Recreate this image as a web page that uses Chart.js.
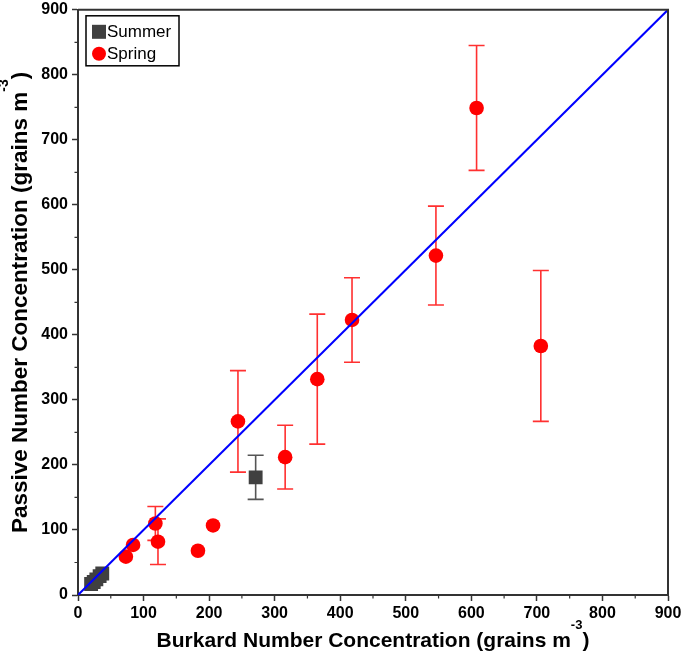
<!DOCTYPE html>
<html>
<head>
<meta charset="utf-8">
<script src="https://cdn.jsdelivr.net/npm/chart.js@4.4.1/dist/chart.umd.min.js"></script>
<style>
html,body{margin:0;padding:0;background:#fff;}
#wrap{width:683px;height:670px;position:relative;}
</style>
</head>
<body>
<div id="wrap"><canvas id="c" width="683" height="670"></canvas></div>
<script>
// ---- Data ----
const springX    = [608, 546, 706, 418, 365, 244, 316, 118, 122, 206, 183, 84, 73];
const springY    = [749, 522, 383, 423, 332, 267, 212, 110, 82, 107, 68, 77, 59];
const springYErr = [96, 76, 116, 65, 100, 78, 49, 26, 35, 0, 0, 0, 0];
const springXErr = [0, 0, 0, 0, 0, 0, 0, 0, 0, 7, 0, 7, 0];

const summerX    = [20, 24, 28, 33, 37, 271];
const summerY    = [17, 20, 24, 29, 33, 181];
const summerYErr = [0, 0, 0, 0, 0, 34];
const summerXErr = [0, 0, 0, 0, 0, 0];

const lineX = [0, 900];
const lineY = [0, 900];

const axisMin = 0, axisMax = 900, majorStep = 100, minorStep = 50;
const xTitle = ["Burkard Number Concentration (grains m", "-3", ")"];
const yTitle = ["Passive Number Concentration (grains m", "-3", ")"];
const legendItems = [
  {label: "Summer", shape: "rect", color: "#404040"},
  {label: "Spring", shape: "circle", color: "#ff0000"}
];

const FONT = "'Liberation Sans', Arial, sans-serif";
const AXIS = "#333333";

function pts(xs, ys){ return xs.map((x,i)=>({x:x, y:ys[i]})); }

const errorBars = {
  id: 'errorBars',
  beforeDatasetsDraw(chart){
    const ctx = chart.ctx, xs = chart.scales.x, ys = chart.scales.y;
    chart.data.datasets.forEach((ds)=>{
      if(!ds.yErr) return;
      ctx.save();
      ctx.strokeStyle = ds.errColor;
      ctx.lineWidth = 1.6;
      ds.data.forEach((p,i)=>{
        const px = xs.getPixelForValue(p.x), py = ys.getPixelForValue(p.y);
        const e = ds.yErr[i];
        if(e>0){
          const t = ys.getPixelForValue(p.y+e), b = ys.getPixelForValue(p.y-e);
          ctx.beginPath();
          ctx.moveTo(px,t); ctx.lineTo(px,b);
          ctx.moveTo(px-8,t); ctx.lineTo(px+8,t);
          ctx.moveTo(px-8,b); ctx.lineTo(px+8,b);
          ctx.stroke();
        }
        const ex = ds.xErr[i];
        if(ex>0){
          const l = xs.getPixelForValue(p.x-ex), r = xs.getPixelForValue(p.x+ex);
          ctx.beginPath();
          ctx.moveTo(l,py); ctx.lineTo(r,py);
          ctx.moveTo(l,py-4); ctx.lineTo(l,py+4);
          ctx.moveTo(r,py-4); ctx.lineTo(r,py+4);
          ctx.stroke();
        }
      });
      ctx.restore();
    });
  }
};

function drawSupText(ctx, parts, size){
  const main = "bold " + size + "px " + FONT;
  const sup = "bold " + Math.round(size*0.62) + "px " + FONT;
  ctx.font = main; const w1 = ctx.measureText(parts[0]).width; const w3 = ctx.measureText(parts[2]).width;
  ctx.font = sup; const w2 = ctx.measureText(parts[1]).width;
  const total = w1 + w2 + w3;
  let x = -total/2;
  ctx.textBaseline = 'alphabetic'; ctx.textAlign = 'left';
  ctx.font = main; ctx.fillText(parts[0], x, 0); x += w1;
  ctx.font = sup; ctx.fillText(parts[1], x, -size*0.85); x += w2;
  ctx.font = main; ctx.fillText(parts[2], x, 0);
}

const decorations = {
  id: 'decorations',
  afterDraw(chart){
    const ctx = chart.ctx, a = chart.chartArea, xs = chart.scales.x, ys = chart.scales.y;
    ctx.save();
    ctx.strokeStyle = AXIS; ctx.lineWidth = 2;
    ctx.beginPath();
    ctx.moveTo(a.left, a.top); ctx.lineTo(a.right, a.top); ctx.lineTo(a.right, a.bottom);
    ctx.stroke();
    ctx.lineWidth = 1.2;
    ctx.beginPath();
    for(let v = axisMin + minorStep; v < axisMax; v += majorStep){
      const px = xs.getPixelForValue(v);
      ctx.moveTo(px, a.bottom); ctx.lineTo(px, a.bottom+3.5);
      const py = ys.getPixelForValue(v);
      ctx.moveTo(a.left, py); ctx.lineTo(a.left-3.5, py);
    }
    ctx.stroke();
    ctx.fillStyle = "#000";
    ctx.save();
    ctx.translate((a.left+a.right)/2, 647);
    drawSupText(ctx, xTitle, 21);
    ctx.restore();
    ctx.save();
    ctx.translate(27, (a.top+a.bottom)/2);
    ctx.rotate(-Math.PI/2);
    drawSupText(ctx, yTitle, 22.5);
    ctx.restore();
    const lx = a.left + 8, ly = a.top + 6, lw = 93, lh = 50;
    ctx.fillStyle = "#fff";
    ctx.fillRect(lx, ly, lw, lh);
    ctx.strokeStyle = "#000"; ctx.lineWidth = 1.5;
    ctx.strokeRect(lx, ly, lw, lh);
    ctx.font = "17px " + FONT; ctx.textBaseline = 'middle'; ctx.textAlign = 'left';
    legendItems.forEach((it, i)=>{
      const cy = ly + 16 + i*22, cx = lx + 13;
      ctx.fillStyle = it.color;
      if(it.shape === 'rect'){ ctx.fillRect(cx-7, cy-7, 14, 14); }
      else { ctx.beginPath(); ctx.arc(cx, cy, 7, 0, Math.PI*2); ctx.fill(); }
      ctx.fillStyle = "#000";
      ctx.fillText(it.label, cx + 8, cy + 1);
    });
    ctx.restore();
  }
};

const scaleCommon = {
  type: 'linear', min: axisMin, max: axisMax,
  ticks: { stepSize: majorStep, color: '#000', font: {family: FONT, size: 16, weight: 'bold'}, padding: 4, maxRotation: 0 },
  grid: { display: true, drawOnChartArea: false, drawTicks: true, tickLength: 6, tickWidth: 1.5, tickColor: AXIS },
  border: { display: true, color: AXIS, width: 2 }
};

new Chart(document.getElementById('c'), {
  type: 'scatter',
  data: {
    datasets: [
      { label: '1:1', type: 'line', data: pts(lineX, lineY), borderColor: '#0000ff', borderWidth: 2, pointRadius: 0, fill: false },
      { label: 'Summer', data: pts(summerX, summerY), yErr: summerYErr, xErr: summerXErr, errColor: '#555555',
        pointStyle: 'rect', pointRadius: 9.8, backgroundColor: '#404040', borderColor: '#404040', borderWidth: 0 },
      { label: 'Spring', data: pts(springX, springY), yErr: springYErr, xErr: springXErr, errColor: '#ff3030',
        pointStyle: 'circle', pointRadius: 7.3, backgroundColor: '#ff0000', borderColor: '#ff0000', borderWidth: 0 }
    ]
  },
  options: {
    responsive: false, animation: false,
    layout: { padding: { top: 6, right: 15, left: 0, bottom: 0 } },
    plugins: { legend: { display: false }, tooltip: { enabled: false } },
    scales: {
      x: Object.assign({}, scaleCommon, {
        ticks: Object.assign({}, scaleCommon.ticks, {padding: 3}),
        afterFit(s){ s.height = 75; s.paddingLeft = 0; s.paddingRight = 0; }
      }),
      y: Object.assign({}, scaleCommon, {
        afterFit(s){ s.width = 78; s.paddingTop = 0; s.paddingBottom = 0; }
      })
    }
  },
  plugins: [errorBars, decorations]
});
</script>
</body>
</html>
